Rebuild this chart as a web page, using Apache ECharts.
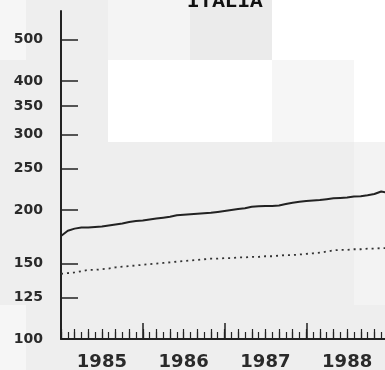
<!DOCTYPE html>
<html>
<head>
<meta charset="utf-8">
<script src="https://cdn.jsdelivr.net/npm/echarts@6/dist/echarts.min.js"></script>
<style>
html,body{margin:0;padding:0;background:#eeeeee;}
#chart{width:385px;height:370px;}
</style>
</head>
<body>
<div id="chart"></div>
<script>
// ---- data ----
const chartTitle = 'ITALIA';
const years = ['1985', '1986', '1987', '1988'];
const yTicks = [100, 125, 150, 200, 250, 300, 350, 400, 500];
// monthly index: 0 = Jan 1985 ... 48 = Jan 1989
const months = [0,1,2,3,4,5,6,7,8,9,10,11,12,13,14,15,16,17,18,19,20,21,22,23,24,25,26,27,28,29,30,31,32,33,34,35,36,37,38,39,40,41,42,43,44,45,46,47,48];
const solidValues = [174,179,181,182,182,182.5,183,184,185,186,187.5,188.5,189,190,191,192,193,194.5,195,195.5,196,196.5,197,198,199,200,201,202,203.5,204,204.5,204.5,205,206.5,208,209,210,210.5,211,212,213,213.5,214,215,215.5,216.5,218,221,219.5];
const dottedValues = [142,142.5,143,144,145,145,145.5,146,147,147.5,148,148.5,149,149.5,150,150.5,151,151.5,152,152.5,153,153.5,154,154,154.5,154.5,155,155,155.5,155.5,156,156,156.5,157,157,157.5,158,158.5,159,160,161,161.5,161.5,162,162,162.5,162.5,163,163];

const solidData = months.map((m, i) => [m, solidValues[i]]);
const dottedData = months.map((m, i) => [m, dottedValues[i]]);

const ink = '#222222';
const chart = echarts.init(document.getElementById('chart'), null, {renderer: 'canvas'});

function bgRect(x, y, w, h, c) {
  return {type: 'rect', z: -10, silent: true, shape: {x: x, y: y, width: w, height: h}, style: {fill: c}};
}

const option = {
  animation: false,
  backgroundColor: '#eeeeee',
  title: {
    text: chartTitle,
    left: 187,
    top: -9,
    padding: 0,
    textStyle: {fontFamily: '"Liberation Mono", monospace', fontWeight: 'bold', fontSize: 21, color: '#111'}
  },
  graphic: [
    bgRect(0, 0, 26, 60, '#f6f6f6'),
    bgRect(108, 0, 82, 60, '#f4f4f4'),
    bgRect(190, 0, 82, 60, '#ebebeb'),
    bgRect(272, 0, 113, 60, '#ffffff'),
    bgRect(108, 60, 164, 82, '#ffffff'),
    bgRect(272, 60, 82, 82, '#f6f6f6'),
    bgRect(354, 60, 31, 82, '#ffffff'),
    bgRect(354, 142, 31, 163, '#f3f3f3'),
    bgRect(0, 305, 26, 65, '#f6f6f6')
  ],
  grid: {left: 61, top: 11, width: 327, height: 328, outerBoundsMode: 'none', containLabel: false},
  xAxis: [
    {
      type: 'value', min: 0, max: 48, interval: 1,
      axisLine: {show: true, lineStyle: {color: ink, width: 2}},
      axisTick: {show: true, inside: true, length: 7, lineStyle: {color: ink, width: 1.2}},
      axisLabel: {show: false}, splitLine: {show: false}
    },
    {
      type: 'value', min: 0, max: 48, interval: 2, position: 'bottom',
      axisLine: {show: false},
      axisTick: {show: true, inside: true, length: 10, lineStyle: {color: ink, width: 1.2}},
      axisLabel: {show: false}, splitLine: {show: false}
    },
    {
      type: 'category', data: years, boundaryGap: true, position: 'bottom',
      axisLine: {show: false},
      axisTick: {show: true, inside: true, length: 16, lineStyle: {color: ink, width: 1.5}},
      axisLabel: {show: true, fontSize: 18, fontWeight: 'bold', fontFamily: '"DejaVu Sans", sans-serif', color: '#2a2a2a', margin: 14},
      splitLine: {show: false}
    }
  ],
  yAxis: {
    type: 'log', logBase: 10, min: 100, max: 583,
    axisLine: {show: true, lineStyle: {color: ink, width: 2}},
    axisTick: {show: true, inside: true, length: 17, customValues: yTicks, lineStyle: {color: ink, width: 1.5}},
    axisLabel: {
      show: true, customValues: yTicks, fontSize: 14, fontWeight: 'bold', fontFamily: '"DejaVu Sans", sans-serif',
      color: '#2a2a2a', margin: 18, padding: [0, 0, 8, 0],
      formatter: function (v) { return String(Math.round(v)); }
    },
    splitLine: {show: false},
    minorTick: {show: false}
  },
  series: [
    {
      type: 'line', xAxisIndex: 0, yAxisIndex: 0, data: solidData,
      showSymbol: false, symbol: 'none',
      lineStyle: {color: ink, width: 2}
    },
    {
      type: 'line', xAxisIndex: 0, yAxisIndex: 0, data: dottedData,
      showSymbol: false, symbol: 'none',
      lineStyle: {color: '#333', width: 1.8, type: [2, 4]}
    }
  ]
};
chart.setOption(option);
</script>
</body>
</html>
